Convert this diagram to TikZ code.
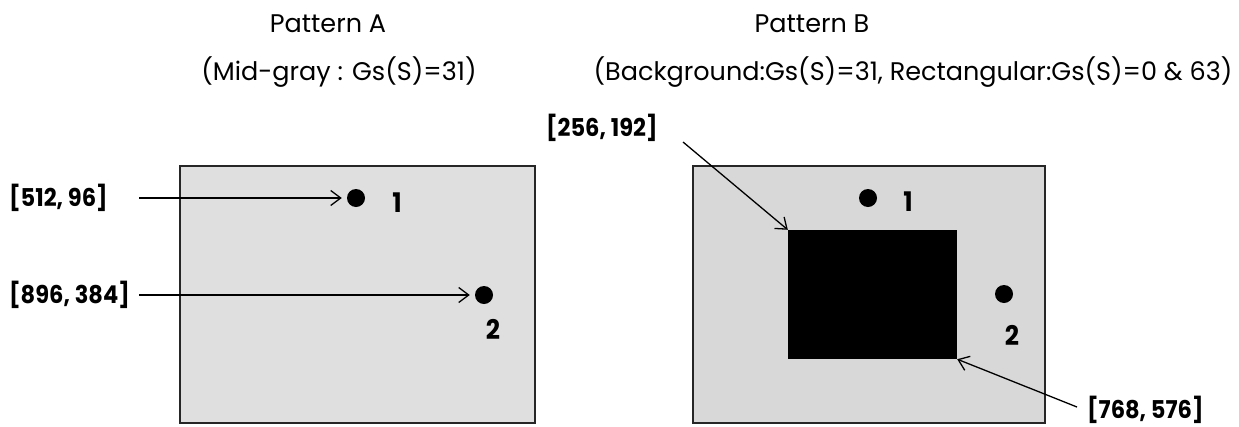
\documentclass[tikz,border=0pt]{standalone}
\usepackage{fontspec}
\setmainfont{Poppins}
\newfontfamily\labfont[FakeStretch=0.92]{Poppins Bold}
\usetikzlibrary{arrows.meta}
\definecolor{graya}{HTML}{DFDFDF}
\definecolor{grayb}{HTML}{D8D8D8}
\tikzset{
  panel/.style={draw=black!85, line width=1.8pt},
  dot/.style={circle, fill=black, inner sep=0pt, minimum size=18pt},
  coord/.style={font=\labfont\fontsize{24.5}{28}\selectfont, inner sep=0pt, anchor=west},
  num/.style={font=\labfont\fontsize{27}{30}\selectfont, inner sep=0pt},
  title/.style={font=\fontsize{25.5}{29}\selectfont, inner sep=0pt},
  pointer/.style={line width=1.3pt, -{Straight Barb[length=10pt,width=15pt,line width=1.3pt]}}
}
\begin{document}
\begin{tikzpicture}[x=1pt,y=-1pt]
\useasboundingbox (0,0) rectangle (1239,426);
% titles
\node[title] (ta) at (328,24) {Pattern A};
\node[title] (sa) at (339,72) {(Mid-gray : Gs(S)=31)};
\node[title] (tb) at (812,24) {Pattern B};
\node[title] (sb) at (913,72) {(Background:Gs(S)=31, Rectangular:Gs(S)=0 \& 63)};
% panels
\path[panel, fill=graya] (180,166) rectangle (535,423);
\path[panel, fill=grayb] (693,166) rectangle (1045,423);
\node[fill=black, inner sep=0pt, minimum width=169pt, minimum height=129pt] (blk) at (872.5,294.5) {};
% dots
\node[dot] (la1) at (356,198) {};
\node[dot] (la2) at (484,295) {};
\node[dot] (rb1) at (868,198) {};
\node[dot] (rb2) at (1004,294) {};
\node[num] (na1) at (397,203) {1};
\node[num] (na2) at (493,329) {2};
\node[num] (nb1) at (908,202) {1};
\node[num] (nb2) at (1012,335) {2};
% coordinate labels
\node[coord] (c1) at (9,198) {[512, 96]};
\node[coord] (c2) at (9,295) {[896, 384]};
\node[coord] (c3) at (546,128) {[256, 192]};
\node[coord] (c4) at (1087,410) {[768, 576]};
\coordinate (s1) at (139,198);
\coordinate (s2) at (139,295);
\coordinate (s3) at (683,142);
\coordinate (s4) at (1077,407);
% arrows
\draw[pointer, shorten >=5pt] (s1) -- (la1.west);
\draw[pointer, shorten >=5pt] (s2) -- (la2.west);
\draw[pointer] (s3) -- (blk.north west);
\draw[pointer] (s4) -- (blk.south east);
\end{tikzpicture}
\end{document}
